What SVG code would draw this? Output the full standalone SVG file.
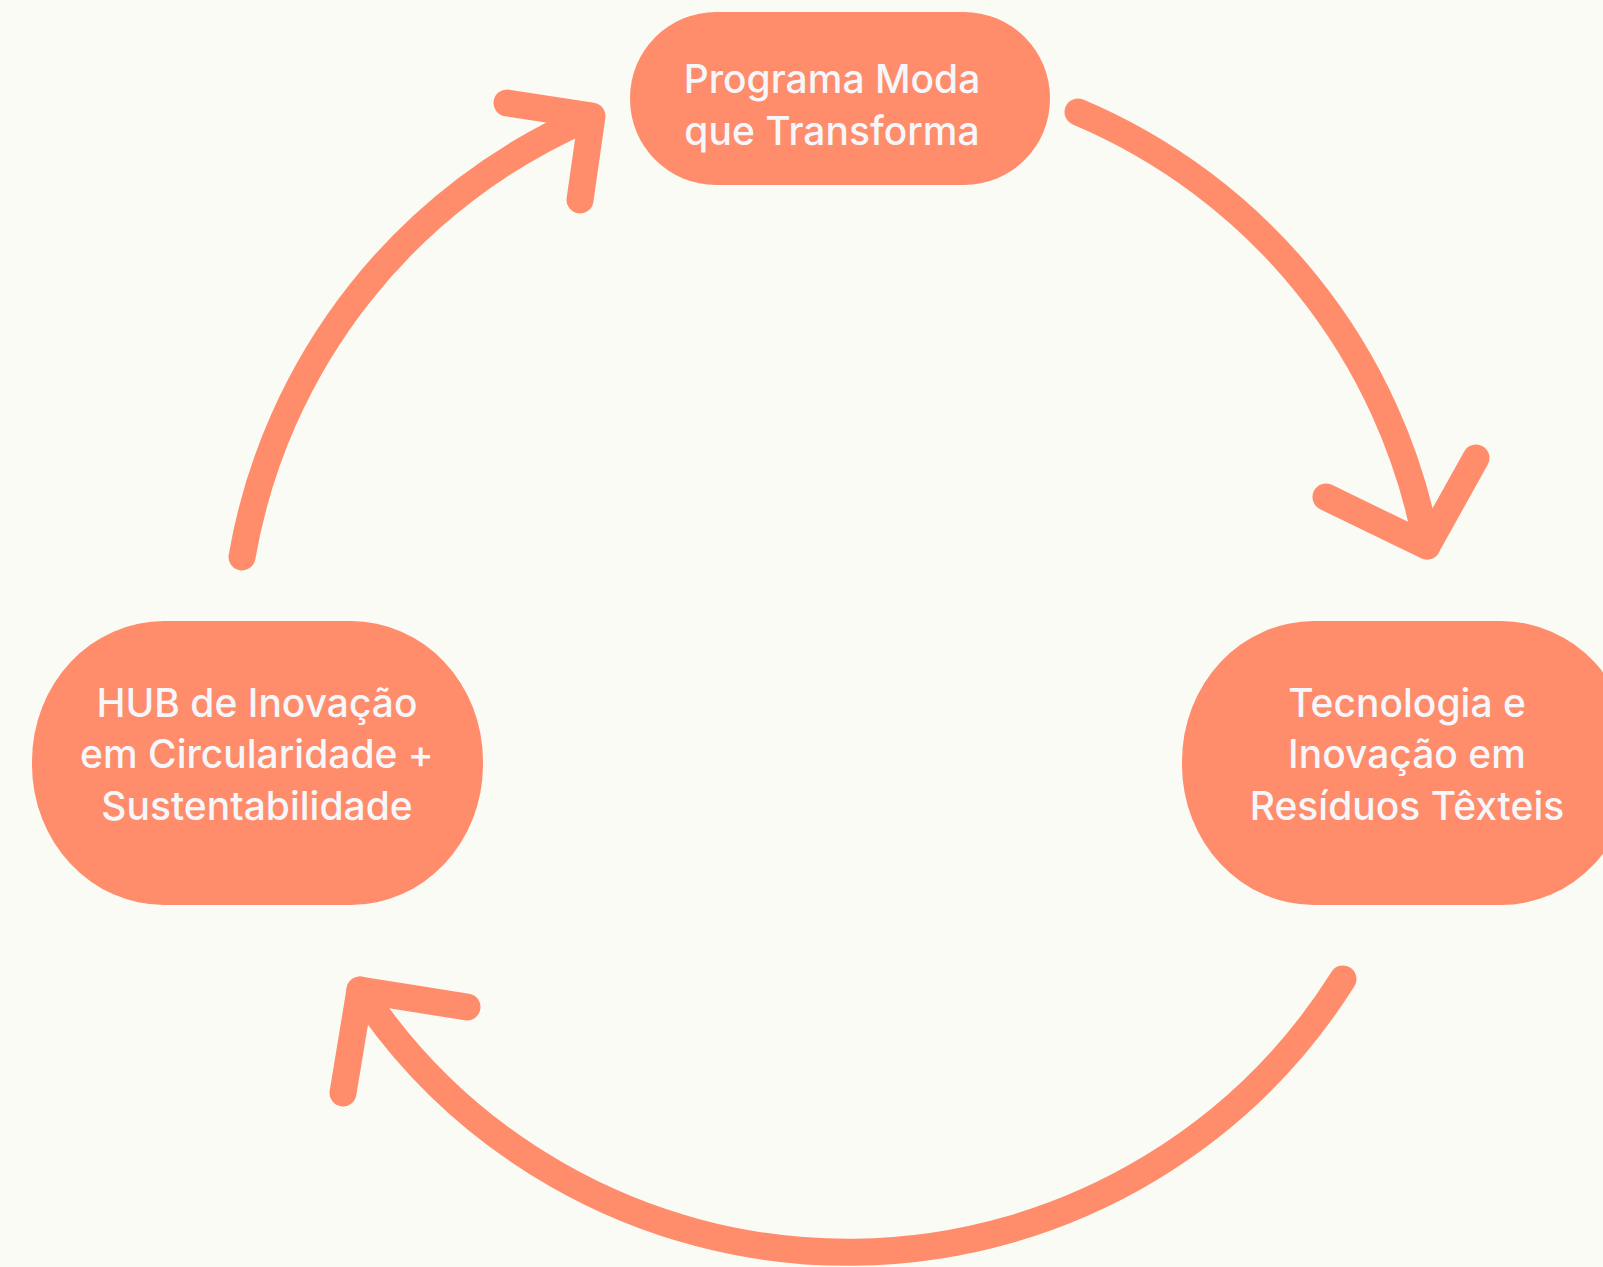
<svg xmlns="http://www.w3.org/2000/svg" width="1603" height="1267" viewBox="0 0 1603 1267">
  <style>
    .pill { fill: #FF8C6B; }
    .lbl { fill: #F5F7FA; font-family: Inter, "Open Sans", "Liberation Sans", sans-serif; font-size: 39px; font-weight: 500; text-anchor: middle; }
    .arc { fill: none; stroke: #FF8C6B; stroke-width: 27; stroke-linecap: round; stroke-linejoin: round; }
  </style>
  <rect width="1603" height="1267" fill="#FBFBF6"/>
  <g id="connectors">
    <path class="arc" d="M1078,112 A587,587 0 0,1 1427,546"/>
    <polyline class="arc" points="1326,497 1427,546 1476,458"/>
    <path class="arc" d="M1343,979 A585,585 0 0,1 360,990"/>
    <polyline class="arc" points="467,1007 360,990 343,1093"/>
    <path class="arc" d="M242,557 A588,588 0 0,1 590,117"/>
    <polyline class="arc" points="507,103 592,116 580,200"/>
  </g>
  <g id="node-programa">
    <rect class="pill" x="630" y="12" width="420" height="173" rx="86" ry="86"/>
    <text class="lbl" x="832" y="93">Programa Moda</text>
    <text class="lbl" x="832" y="145">que Transforma</text>
  </g>
  <g id="node-hub">
    <rect class="pill" x="32" y="621" width="451" height="284" rx="132" ry="140"/>
    <text class="lbl" x="257" y="717">HUB de Inovação</text>
    <text class="lbl" x="257" y="768">em Circularidade +</text>
    <text class="lbl" x="257" y="820">Sustentabilidade</text>
  </g>
  <g id="node-tecnologia">
    <rect class="pill" x="1182" y="621" width="451" height="284" rx="132" ry="140"/>
    <text class="lbl" x="1407" y="717">Tecnologia e</text>
    <text class="lbl" x="1407" y="768">Inovação em</text>
    <text class="lbl" x="1407" y="820">Resíduos Têxteis</text>
  </g>
</svg>
